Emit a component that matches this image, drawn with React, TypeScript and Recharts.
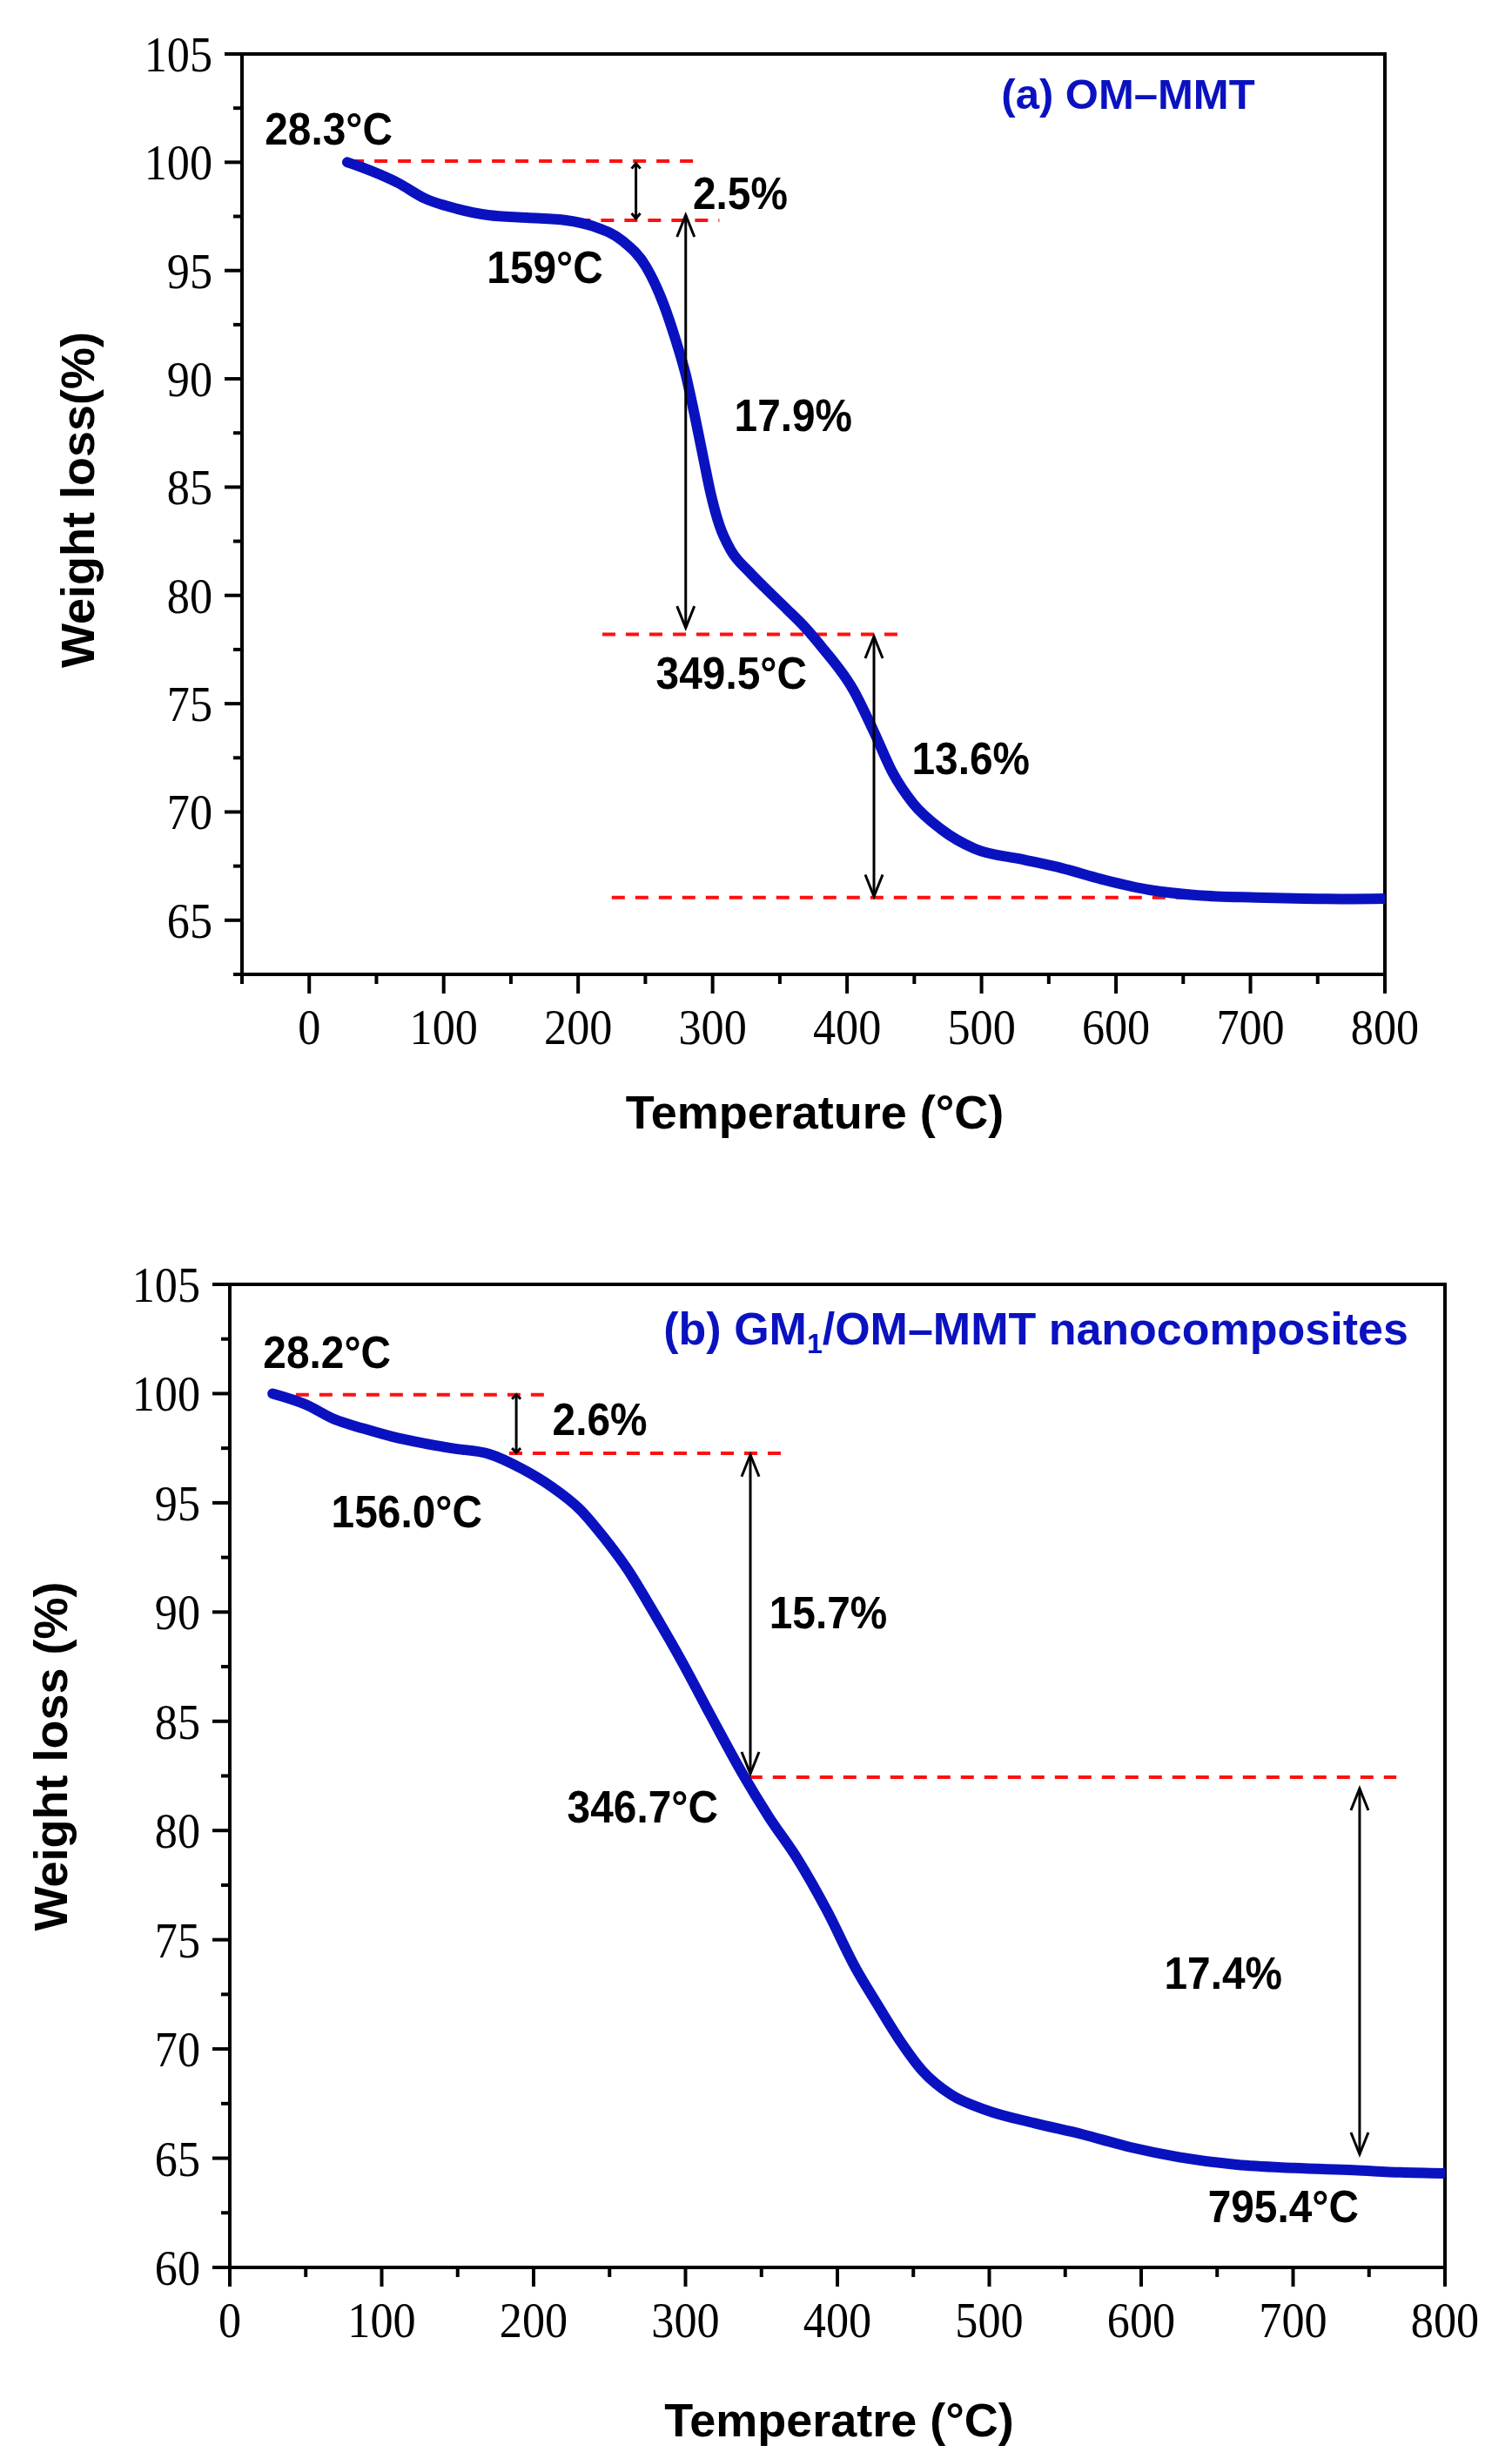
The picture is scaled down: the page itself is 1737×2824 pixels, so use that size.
import React from 'react';
import { LineChart, Line, XAxis, YAxis, ReferenceLine, ReferenceArea, ReferenceDot } from 'recharts';

const BLUE = '#0a12c0';
const RED = '#ff1010';
const SANS = "'Liberation Sans', Arial, sans-serif";
const SERIF = "'Liberation Serif', 'Times New Roman', serif";

// (a) OM–MMT curve
const tempA = [28.3, 40, 52, 66, 86, 110, 133, 162, 191, 211.4, 233, 250.6, 263.7, 272.4, 280, 286.6, 293.2, 298.6, 305, 313.9, 327, 342, 355.3, 368.4, 381.4, 405, 420, 434, 449, 470, 495, 531, 560, 589, 625, 661, 704, 740, 770, 800];
const weightA = [100, 99.75, 99.45, 99.05, 98.33, 97.85, 97.56, 97.44, 97.32, 97.04, 96.37, 95.17, 93.42, 91.82, 90.2, 88.33, 86.32, 84.7, 83.25, 82.05, 81.1, 80.16, 79.36, 78.55, 77.6, 75.6, 73.7, 71.8, 70.4, 69.2, 68.3, 67.8, 67.4, 66.9, 66.4, 66.15, 66.05, 66.0, 65.98, 66.0];

// (b) GM1/OM–MMT curve
const tempB = [28.2, 50, 69, 88, 107, 128, 146, 171, 192.6, 211.6, 230.8, 246, 261.3, 278.5, 297.6, 316.7, 337.7, 354.9, 374, 393, 412.2, 425.6, 441, 456, 475, 498, 530, 561, 593, 625, 663, 701, 740, 771, 800];
const weightB = [100, 99.5, 98.82, 98.4, 98.03, 97.72, 97.5, 97.23, 96.55, 95.75, 94.68, 93.44, 92.01, 90.05, 87.74, 85.25, 82.58, 80.62, 78.67, 76.35, 73.68, 72.12, 70.4, 69.0, 67.9, 67.2, 66.6, 66.1, 65.5, 65.05, 64.7, 64.55, 64.45, 64.35, 64.3];

const xTicksA = [-50, 0, 50, 100, 150, 200, 250, 300, 350, 400, 450, 500, 550, 600, 650, 700, 750, 800];
const yTicksA = [62.5, 65, 67.5, 70, 72.5, 75, 77.5, 80, 82.5, 85, 87.5, 90, 92.5, 95, 97.5, 100, 102.5, 105];
const xTicksB = [0, 50, 100, 150, 200, 250, 300, 350, 400, 450, 500, 550, 600, 650, 700, 750, 800];
const yTicksB = [60, 62.5, 65, 67.5, 70, 72.5, 75, 77.5, 80, 82.5, 85, 87.5, 90, 92.5, 95, 97.5, 100, 102.5, 105];

// red dashed guides: [y, xFrom, xTo]
const guidesA = [[100.05, 31, 287], [97.32, 182, 305], [78.2, 218, 441], [66.05, 225, 740]];
const guidesB = [[99.95, 28, 208], [97.27, 153, 364], [82.44, 342, 768]];

// double arrows: [x, yTop, yBottom, headLength]
const arrowsA = [[243, 99.95, 97.4, 6], [280, 97.56, 78.5, 25], [420, 78.1, 66.1, 25]];
const arrowsB = [[188.6, 99.95, 97.3, 5], [342.7, 97.2, 82.6, 25], [743.8, 81.92, 65.18, 25]];

// annotations: [text, x, y]
const notesA = [
  ['28.3°C', 14.5, 101.58],
  ['2.5%', 320.6, 98.6],
  ['159°C', 175.3, 95.19],
  ['17.9%', 360, 88.36],
  ['349.5°C', 314, 76.46],
  ['13.6%', 492, 72.5],
];
const notesB = [
  ['28.2°C', 64, 101.93],
  ['2.6%', 243.6, 98.86],
  ['156.0°C', 116.5, 94.64],
  ['15.7%', 394, 90.0],
  ['346.7°C', 271.8, 81.13],
  ['17.4%', 654, 73.5],
  ['795.4°C', 693.6, 62.83],
];

const dataA = tempA.map((t, i) => ({ t, w: weightA[i] }));
const dataB = tempB.map((t, i) => ({ t, w: weightB[i] }));

const XTick = (props: any) => {
  const { x, y, payload } = props;
  const major = payload.value % 100 === 0;
  return (
    <g>
      <line x1={x} y1={y} x2={x} y2={y + (major ? 22 : 11)} stroke="#000" strokeWidth={4} />
      {major && (
        <text transform={`translate(${x},${y + 80}) scale(0.9,1)`} textAnchor="middle" fontFamily={SERIF} fontSize={58} fill="#000">
          {payload.value}
        </text>
      )}
    </g>
  );
};

const YTick = (props: any) => {
  const { x, y, payload } = props;
  const major = payload.value % 5 === 0;
  return (
    <g>
      <line x1={x - (major ? 20 : 10)} y1={y} x2={x} y2={y} stroke="#000" strokeWidth={4} />
      {major && (
        <text transform={`translate(${x - 34},${y + 20}) scale(0.9,1)`} textAnchor="end" fontFamily={SERIF} fontSize={58} fill="#000">
          {payload.value}
        </text>
      )}
    </g>
  );
};

const noteShape = (text: string) => (p: any) => (
  <text transform={`translate(${p.cx},${p.cy}) scale(0.92,1)`} y={19} textAnchor="middle" fontFamily={SANS} fontWeight="bold" fontSize={52} fill="#000">
    {text}
  </text>
);

const arrowShape = (len: number) => (p: any) => {
  const { x1, y1, x2, y2 } = p;
  const top = Math.min(y1, y2);
  const bot = Math.max(y1, y2);
  const h = len > 10 ? 10 : 5;
  return (
    <g stroke="#000" strokeWidth={3} fill="none">
      <line x1={x1} y1={top} x2={x2} y2={bot} />
      <polyline points={`${x1 - h},${top + len} ${x1},${top} ${x1 + h},${top + len}`} />
      <polyline points={`${x1 - h},${bot - len} ${x1},${bot} ${x1 + h},${bot - len}`} />
    </g>
  );
};

const Panel = ({ data, xDomain, yDomain, xTicks, yTicks, guides, arrows, notes, title, xTitle, yTitle, height, margin, yTitlePos, xTitlePos }: any) => (
  <LineChart width={1737} height={height} data={data} margin={margin}>
    <XAxis
      type="number"
      dataKey="t"
      domain={xDomain}
      ticks={xTicks}
      interval={0}
      allowDataOverflow
      height={100}
      tickSize={0}
      tickMargin={0}
      tickLine={false}
      tick={XTick}
      axisLine={{ stroke: '#000', strokeWidth: 4 }}
    />
    <YAxis
      type="number"
      domain={yDomain}
      ticks={yTicks}
      interval={0}
      allowDataOverflow
      width={100}
      tickSize={0}
      tickMargin={0}
      tickLine={false}
      tick={YTick}
      axisLine={{ stroke: '#000', strokeWidth: 4 }}
    />
    <ReferenceArea x1={xDomain[0]} x2={xDomain[1]} y1={yDomain[0]} y2={yDomain[1]} fill="none" stroke="#000" strokeWidth={4} />
    {guides.map((g: number[], i: number) => (
      <ReferenceLine
        key={`g${i}`}
        segment={[{ x: g[1], y: g[0] }, { x: g[2], y: g[0] }]}
        stroke={RED}
        strokeWidth={4}
        strokeDasharray="15 12"
      />
    ))}
    <Line
      type="monotone"
      dataKey="w"
      stroke={BLUE}
      strokeWidth={12}
      strokeLinecap="round"
      strokeLinejoin="round"
      dot={false}
      activeDot={false}
      isAnimationActive={false}
    />
    {arrows.map((a: number[], i: number) => (
      <ReferenceLine key={`a${i}`} segment={[{ x: a[0], y: a[1] }, { x: a[0], y: a[2] }]} shape={arrowShape(a[3])} />
    ))}
    {notes.map((n: any[], i: number) => (
      <ReferenceDot key={`n${i}`} x={n[1]} y={n[2]} r={0} shape={noteShape(n[0])} />
    ))}
    {title}
    <text
      transform={`translate(${yTitlePos[0]},${yTitlePos[1]}) rotate(-90)`}
      textAnchor="middle"
      dominantBaseline="central"
      fontFamily={SANS}
      fontWeight="bold"
      fontSize={54}
      fill="#000"
    >
      {yTitle}
    </text>
    <text x={xTitlePos[0]} y={xTitlePos[1]} textAnchor="middle" fontFamily={SANS} fontWeight="bold" fontSize={54} fill="#000">
      {xTitle}
    </text>
  </LineChart>
);

const titleA = (
  <ReferenceDot
    x={609}
    y={103.2}
    r={0}
    shape={(p: any) => (
      <text x={p.cx} y={p.cy + 18} textAnchor="middle" fontFamily={SANS} fontWeight="bold" fontSize={49} fill={BLUE}>
        (a) OM–MMT
      </text>
    )}
  />
);

const titleB = (
  <ReferenceDot
    x={530.7}
    y={103.0}
    r={0}
    shape={(p: any) => (
      <text x={p.cx} y={p.cy + 19} textAnchor="middle" fontFamily={SANS} fontWeight="bold" fontSize={52} fill={BLUE}>
        (b) GM<tspan fontSize={32} dy={10}>1</tspan>
        <tspan dy={-10}>/OM–MMT nanocomposites</tspan>
      </text>
    )}
  />
);

export default function App() {
  return (
    <div style={{ position: 'absolute', left: 0, top: 0, width: 1737, height: 2824, background: '#fff' }}>
      <div style={{ position: 'absolute', left: 0, top: 0 }}>
        <Panel
          data={dataA}
          height={1400}
          margin={{ top: 62, right: 146, left: 178, bottom: 181 }}
          xDomain={[-50, 800]}
          yDomain={[62.5, 105]}
          xTicks={xTicksA}
          yTicks={yTicksA}
          guides={guidesA}
          arrows={arrowsA}
          notes={notesA}
          title={titleA}
          xTitle="Temperature (°C)"
          yTitle="Weight loss(%)"
          yTitlePos={[89, 574]}
          xTitlePos={[936, 1296]}
        />
      </div>
      <div style={{ position: 'absolute', left: 0, top: 1400 }}>
        <Panel
          data={dataB}
          height={1424}
          margin={{ top: 75, right: 77, left: 164, bottom: 120 }}
          xDomain={[0, 800]}
          yDomain={[60, 105]}
          xTicks={xTicksB}
          yTicks={yTicksB}
          guides={guidesB}
          arrows={arrowsB}
          notes={notesB}
          title={titleB}
          xTitle="Temperatre (°C)"
          yTitle="Weight loss (%)"
          yTitlePos={[58, 617]}
          xTitlePos={[964, 1398]}
        />
      </div>
    </div>
  );
}
